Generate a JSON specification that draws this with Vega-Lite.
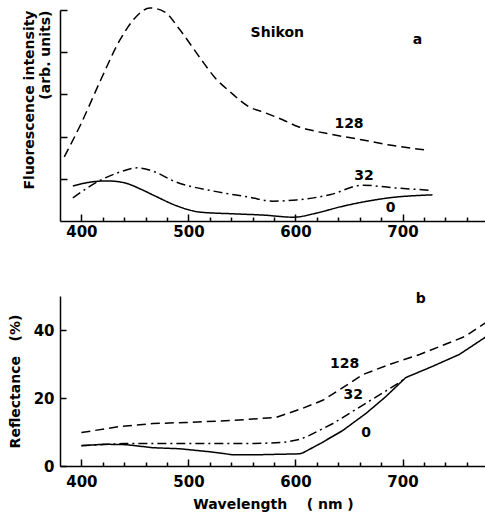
{
  "$schema": "https://vega.github.io/schema/vega-lite/v6.json",
  "padding": {"left": 8, "top": 4, "right": 0, "bottom": 5},
  "spacing": 53,
  "config": {
    "view": {"stroke": null},
    "font": "DejaVu Sans",
    "axis": {
      "domainColor": "black", "domainWidth": 1.5, "tickColor": "black", "tickWidth": 1.5,
      "labelFont": "DejaVu Sans", "labelFontWeight": "bold", "labelFontSize": 15, "labelColor": "black",
      "titleFont": "DejaVu Sans", "titleFontWeight": "bold", "titleFontSize": 14, "titleColor": "black",
      "grid": false, "labelOverlap": false
    }
  },
  "datasets": {
    "fa": [
      {"wl": 384, "v": 1.52, "s": "128"}, {"wl": 399, "v": 2.27, "s": "128"}, {"wl": 418, "v": 3.34, "s": "128"},
      {"wl": 436, "v": 4.29, "s": "128"}, {"wl": 450, "v": 4.81, "s": "128"}, {"wl": 464, "v": 5.05, "s": "128"},
      {"wl": 478, "v": 4.95, "s": "128"}, {"wl": 492, "v": 4.53, "s": "128"}, {"wl": 511, "v": 3.86, "s": "128"},
      {"wl": 525, "v": 3.39, "s": "128"}, {"wl": 539, "v": 3.06, "s": "128"}, {"wl": 557, "v": 2.70, "s": "128"},
      {"wl": 570, "v": 2.58, "s": "128"}, {"wl": 588, "v": 2.40, "s": "128"}, {"wl": 602, "v": 2.24, "s": "128"},
      {"wl": 615, "v": 2.15, "s": "128"}, {"wl": 632, "v": 2.06, "s": "128"}, {"wl": 663, "v": 1.92, "s": "128"},
      {"wl": 688, "v": 1.80, "s": "128"}, {"wl": 722, "v": 1.68, "s": "128"},
      {"wl": 392, "v": 0.55, "s": "32"}, {"wl": 418, "v": 0.97, "s": "32"}, {"wl": 436, "v": 1.16, "s": "32"},
      {"wl": 452, "v": 1.26, "s": "32"}, {"wl": 469, "v": 1.16, "s": "32"}, {"wl": 486, "v": 0.95, "s": "32"},
      {"wl": 523, "v": 0.71, "s": "32"}, {"wl": 556, "v": 0.57, "s": "32"}, {"wl": 579, "v": 0.47, "s": "32"},
      {"wl": 601, "v": 0.50, "s": "32"}, {"wl": 632, "v": 0.62, "s": "32"}, {"wl": 663, "v": 0.85, "s": "32"},
      {"wl": 690, "v": 0.79, "s": "32"}, {"wl": 725, "v": 0.73, "s": "32"},
      {"wl": 392, "v": 0.83, "s": "0"}, {"wl": 408, "v": 0.92, "s": "0"}, {"wl": 424, "v": 0.95, "s": "0"},
      {"wl": 441, "v": 0.90, "s": "0"}, {"wl": 455, "v": 0.76, "s": "0"}, {"wl": 469, "v": 0.59, "s": "0"},
      {"wl": 489, "v": 0.36, "s": "0"}, {"wl": 511, "v": 0.21, "s": "0"}, {"wl": 542, "v": 0.17, "s": "0"},
      {"wl": 570, "v": 0.14, "s": "0"}, {"wl": 598, "v": 0.09, "s": "0"}, {"wl": 620, "v": 0.19, "s": "0"},
      {"wl": 641, "v": 0.33, "s": "0"}, {"wl": 663, "v": 0.45, "s": "0"}, {"wl": 688, "v": 0.55, "s": "0"},
      {"wl": 728, "v": 0.62, "s": "0"}
    ],
    "fb": [
      {"wl": 400, "v": 9.85, "s": "128"}, {"wl": 436, "v": 11.6, "s": "128"}, {"wl": 467, "v": 12.5, "s": "128"},
      {"wl": 498, "v": 12.8, "s": "128"}, {"wl": 542, "v": 13.4, "s": "128"}, {"wl": 582, "v": 14.3, "s": "128"},
      {"wl": 607, "v": 17.0, "s": "128"}, {"wl": 626, "v": 19.4, "s": "128"}, {"wl": 641, "v": 22.4, "s": "128"},
      {"wl": 663, "v": 26.9, "s": "128"}, {"wl": 688, "v": 29.9, "s": "128"}, {"wl": 716, "v": 32.8, "s": "128"},
      {"wl": 740, "v": 35.8, "s": "128"}, {"wl": 759, "v": 38.2, "s": "128"}, {"wl": 779, "v": 42.4, "s": "128"},
      {"wl": 400, "v": 6.0, "s": "32"}, {"wl": 440, "v": 6.6, "s": "32"}, {"wl": 560, "v": 6.6, "s": "32"},
      {"wl": 588, "v": 6.9, "s": "32"}, {"wl": 604, "v": 7.8, "s": "32"}, {"wl": 613, "v": 9.0, "s": "32"},
      {"wl": 635, "v": 12.5, "s": "32"}, {"wl": 666, "v": 18.5, "s": "32"}, {"wl": 697, "v": 24.5, "s": "32"},
      {"wl": 703, "v": 26.0, "s": "32"},
      {"wl": 400, "v": 5.97, "s": "0"}, {"wl": 421, "v": 6.4, "s": "0"}, {"wl": 442, "v": 6.27, "s": "0"},
      {"wl": 467, "v": 5.37, "s": "0"}, {"wl": 492, "v": 5.07, "s": "0"}, {"wl": 520, "v": 4.18, "s": "0"},
      {"wl": 542, "v": 3.28, "s": "0"}, {"wl": 560, "v": 3.28, "s": "0"}, {"wl": 604, "v": 3.58, "s": "0"},
      {"wl": 607, "v": 3.88, "s": "0"}, {"wl": 623, "v": 6.57, "s": "0"}, {"wl": 644, "v": 10.4, "s": "0"},
      {"wl": 666, "v": 15.5, "s": "0"}, {"wl": 684, "v": 20.3, "s": "0"}, {"wl": 703, "v": 26.0, "s": "0"},
      {"wl": 728, "v": 29.3, "s": "0"}, {"wl": 753, "v": 32.8, "s": "0"}, {"wl": 779, "v": 38.2, "s": "0"}
    ],
    "la": [
      {"wl": 583, "v": 4.45, "t": "Shikon"}, {"wl": 714, "v": 4.29, "t": "a"},
      {"wl": 650, "v": 2.30, "t": "128"}, {"wl": 664, "v": 1.07, "t": "32"}, {"wl": 689, "v": 0.31, "t": "0"}
    ],
    "lb": [
      {"wl": 717, "v": 49, "t": "b"}, {"wl": 646, "v": 30.1, "t": "128"},
      {"wl": 654, "v": 20.9, "t": "32"}, {"wl": 666, "v": 9.85, "t": "0"}
    ]
  },
  "vconcat": [
    {
      "width": 426, "height": 211,
      "resolve": {"axis": {"x": "independent"}},
      "layer": [
        {
          "data": {"name": "fa"},
          "mark": {"type": "line", "interpolate": "monotone", "color": "black", "strokeWidth": 1.5},
          "encoding": {
            "x": {"field": "wl", "type": "quantitative", "scale": {"domain": [380, 778], "nice": false, "zero": false},
                  "axis": {"title": null, "orient": "bottom", "values": [400, 500, 600, 700],
                           "tickSize": -7, "labelPadding": 10}},
            "y": {"field": "v", "type": "quantitative", "scale": {"domain": [0, 5], "nice": false},
                  "axis": {"values": [1,2,3,4,5], "labels": false, "tickSize": -7,
                           "title": ["Fluorescence intensity", "(arb. units)"], "titleAnchor": "end",
                           "titlePadding": 7, "titleLineHeight": 16}},
            "strokeDash": {"field": "s", "type": "nominal",
                           "scale": {"domain": ["0", "32", "128"], "range": [[1, 0], [9, 4, 2, 4], [9, 5]]},
                           "legend": null}
          }
        },
        {
          "data": {"name": "la"},
          "mark": {"type": "text", "font": "DejaVu Sans", "fontWeight": "bold", "fontSize": 14, "color": "black"},
          "encoding": {
            "x": {"field": "wl", "type": "quantitative",
                  "axis": {"title": null, "orient": "bottom", "values": [420,440,460,480,520,540,560,580,620,640,660,680,720,740,760],
                           "labels": false, "domain": false, "tickSize": -4}},
            "y": {"field": "v", "type": "quantitative"},
            "text": {"field": "t"}
          }
        }
      ]
    },
    {
      "width": 426, "height": 170,
      "resolve": {"axis": {"x": "independent"}},
      "layer": [
        {
          "data": {"name": "fb"},
          "mark": {"type": "line", "color": "black", "strokeWidth": 1.5},
          "encoding": {
            "x": {"field": "wl", "type": "quantitative", "scale": {"domain": [380, 778], "nice": false, "zero": false},
                  "axis": {"title": "Wavelength\u00a0\u00a0\u00a0\u00a0(\u00a0nm\u00a0)", "orient": "bottom", "values": [400, 500, 600, 700],
                           "tickSize": -7, "labelPadding": 15, "titlePadding": 8}},
            "y": {"field": "v", "type": "quantitative", "scale": {"domain": [0, 50], "nice": false},
                  "axis": {"values": [0,10,20,30,40,50], "tickSize": -6,
                           "labelExpr": "datum.value % 20 === 0 ? datum.label : ''",
                           "labelPadding": 12,
                           "title": "Reflectance\u00a0\u00a0\u00a0(%)", "titlePadding": 11}},
            "strokeDash": {"field": "s", "type": "nominal",
                           "scale": {"domain": ["0", "32", "128"], "range": [[1, 0], [9, 4, 2, 4], [9, 5]]},
                           "legend": null}
          }
        },
        {
          "data": {"name": "lb"},
          "mark": {"type": "text", "font": "DejaVu Sans", "fontWeight": "bold", "fontSize": 14, "color": "black"},
          "encoding": {
            "x": {"field": "wl", "type": "quantitative",
                  "axis": {"title": null, "orient": "bottom", "values": [420,440,460,480,520,540,560,580,620,640,660,680,720,740,760],
                           "labels": false, "domain": false, "tickSize": -4}},
            "y": {"field": "v", "type": "quantitative"},
            "text": {"field": "t"}
          }
        }
      ]
    }
  ]
}
